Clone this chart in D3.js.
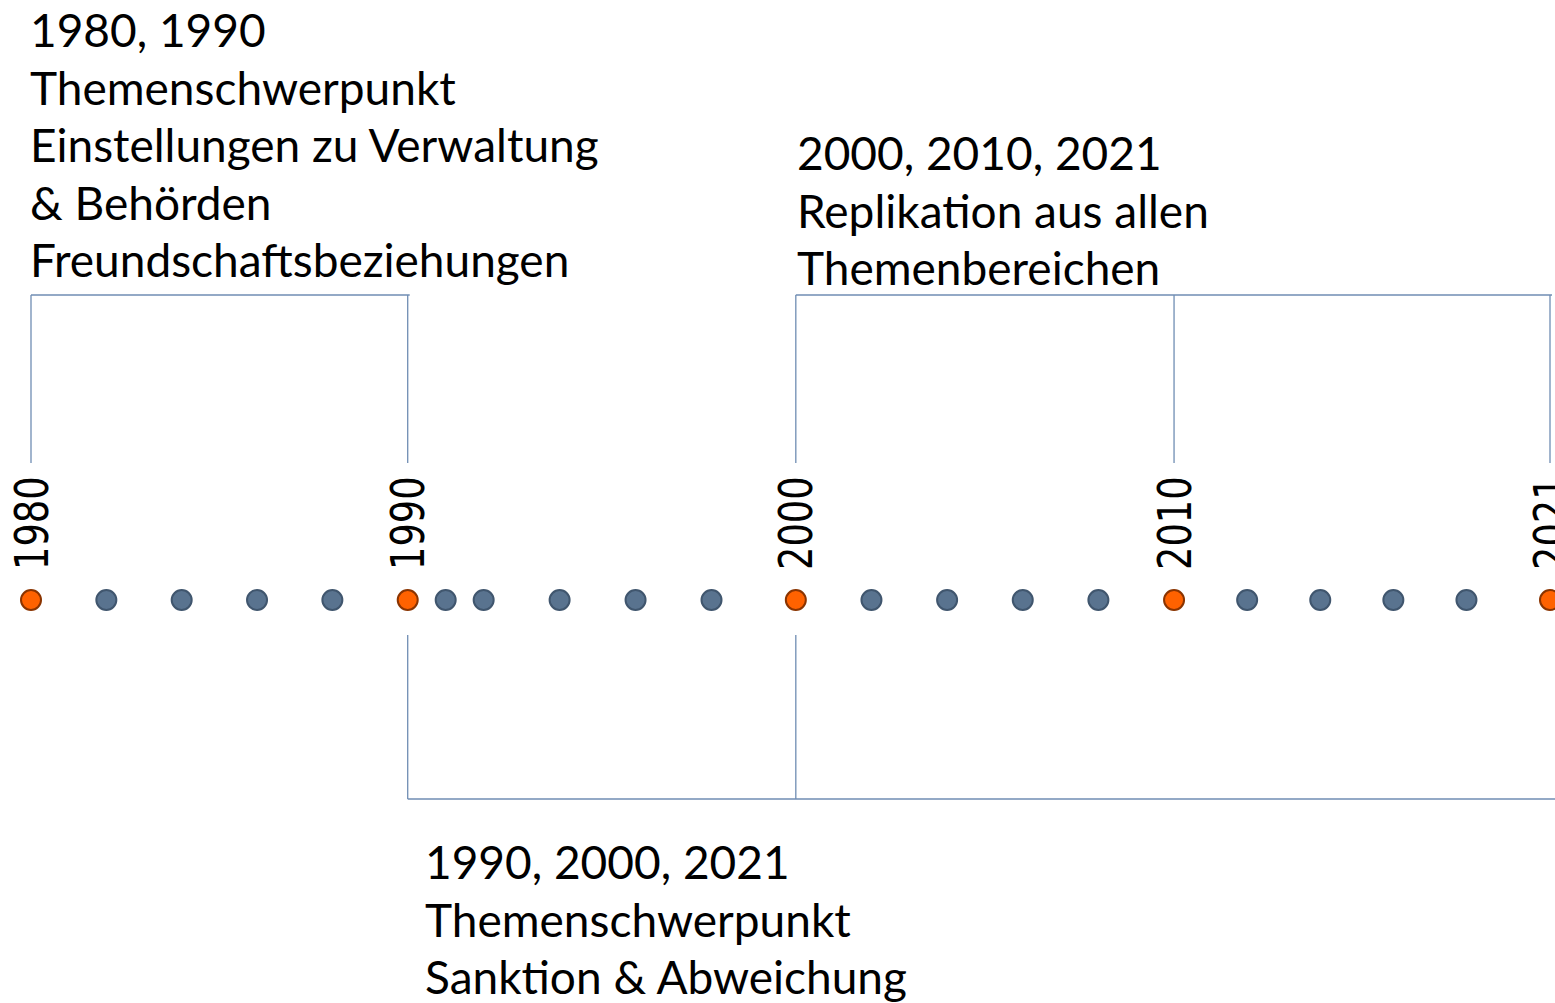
<!DOCTYPE html>
<html>
<head>
<meta charset="utf-8">
<script src="https://cdn.jsdelivr.net/npm/d3@7"></script>
<style>
  body { margin: 0; background: #fff; }
  svg { display: block; }
</style>
</head>
<body>
<div id="timeline"></div>
<script>
// set up chart
var svgWidth = 1555;
var svgHeight = 1003;

// survey years on the timeline
var surveyYears = [1980, 1982, 1984, 1986, 1988, 1990, 1991, 1992, 1994, 1996, 1998,
                   2000, 2002, 2004, 2006, 2008, 2010, 2012, 2014, 2016, 2018, 2021];

// highlighted (labelled) years
var keyYears = [1980, 1990, 2000, 2010, 2021];

// bracket groups
var topLeftYears = [1980, 1990];
var topRightYears = [2000, 2010, 2021];
var bottomYears = [1990, 2000, 2021];

// text blocks
var topLeftText = ["1980, 1990", "Themenschwerpunkt", "Einstellungen zu Verwaltung", "& Behörden", "Freundschaftsbeziehungen"];
var topRightText = ["2000, 2010, 2021", "Replikation aus allen", "Themenbereichen"];
var bottomText = ["1990, 2000, 2021", "Themenschwerpunkt", "Sanktion & Abweichung"];

var margin = { left: 31, right: 5 };
var width = svgWidth - margin.left - margin.right;

var dotY = 600;
var bracketTopY = 295;
var bracketBottomY = 799;
var lineColor = "#6f8db3";
var textFont = "Lato, 'Noto Sans', sans-serif";
var lineStep = 57.5;

var svg = d3.select("#timeline")
  .append("svg")
  .attr("width", svgWidth)
  .attr("height", svgHeight);

// piecewise scale: the timeline is not spaced quite evenly in the original
var xScale = d3.scaleLinear()
  .domain([1980, 1990, 1998, 2000, 2010, 2018, 2021])
  .range([0, 0.248, 0.448, 0.5035, 0.7525, 0.945, 1].map(f => margin.left + f * width));

// brackets
function drawBracket(years, yLine, yEnd, cut) {
  var g = svg.append("g")
    .attr("fill", "none")
    .attr("stroke", lineColor)
    .attr("stroke-width", 1.3);

  var x0 = xScale(years[0]);
  var x1 = cut ? svgWidth + 5 : xScale(years[years.length - 1]) + 2;

  g.append("line")
    .attr("x1", x0).attr("x2", x1)
    .attr("y1", yLine).attr("y2", yLine);

  // the last leg of a cut bracket lies outside the picture
  var verts = cut ? years.slice(0, -1) : years;
  g.selectAll("line.v")
    .data(verts)
    .enter()
    .append("line")
    .attr("class", "v")
    .attr("x1", d => xScale(d))
    .attr("x2", d => xScale(d))
    .attr("y1", yLine)
    .attr("y2", yEnd);
}

drawBracket(topLeftYears, bracketTopY, 463, false);
drawBracket(topRightYears, bracketTopY, 463, false);
drawBracket(bottomYears, bracketBottomY, 635, true);

// text blocks
function drawText(lines, x, firstBaseline) {
  svg.append("text")
    .attr("font-family", textFont)
    .attr("font-size", 46)
    .attr("fill", "#000")
    .selectAll("tspan")
    .data(lines)
    .enter()
    .append("tspan")
    .attr("x", x)
    .attr("y", (d, i) => firstBaseline + i * lineStep)
    .text(d => d);
}

drawText(topLeftText, 30, 47);
drawText(topRightText, 797, 170);
drawText(bottomText, 425, 879);

// rotated year labels
svg.selectAll("text.year")
  .data(keyYears)
  .enter()
  .append("text")
  .attr("class", "year")
  .attr("transform", d => `translate(${xScale(d)}, 570) rotate(-90) scale(0.8, 1)`)
  .attr("dy", "0.36em")
  .attr("font-family", "'DejaVu Sans', sans-serif")
  .attr("font-size", 46)
  .attr("fill", "#000")
  .text(d => d);

// dots
svg.selectAll("circle")
  .data(surveyYears)
  .enter()
  .append("circle")
  .attr("cx", d => xScale(d))
  .attr("cy", dotY)
  .attr("r", 10)
  .attr("fill", d => keyYears.includes(d) ? "#ff6200" : "#59738f")
  .attr("stroke", d => keyYears.includes(d) ? "#8a3400" : "#40566e")
  .attr("stroke-width", 2);
</script>
</body>
</html>
